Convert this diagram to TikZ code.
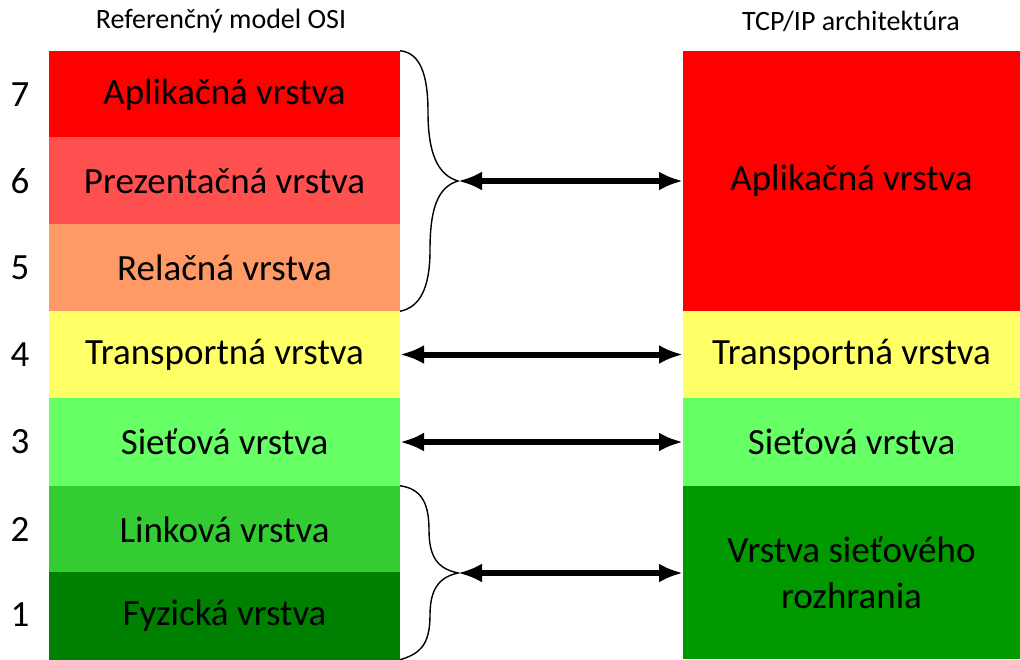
\documentclass[tikz,border=0pt]{standalone}
\usepackage{fontspec}
\setmainfont{Carlito}
\usetikzlibrary{arrows.meta}
\definecolor{cApp}{HTML}{FF0000}
\definecolor{cPres}{HTML}{FF5050}
\definecolor{cSes}{HTML}{FF9966}
\definecolor{cTra}{HTML}{FFFF66}
\definecolor{cNet}{HTML}{66FF66}
\definecolor{cLink}{HTML}{33CC33}
\definecolor{cPhy}{HTML}{008000}
\definecolor{cHost}{HTML}{009900}
\tikzset{
  layer/.style={draw=none, inner sep=0pt, outer sep=0pt, align=center,
    font=\fontsize{37}{46}\selectfont},
  osi/.style={layer, minimum width=351pt, minimum height=87.5pt},
  tcp/.style={layer, minimum width=337pt},
  num/.style={font=\fontsize{37}{40}\selectfont},
  title/.style={font=\fontsize{28}{32}\selectfont},
  brace/.style={draw=black, line width=1.4pt},
  dblarrow/.style={line width=6pt, {Latex[length=24pt,width=19pt]}-{Latex[length=24pt,width=19pt]}}
}
\begin{document}
\begin{tikzpicture}[x=1pt,y=-1pt]
\useasboundingbox (0,0) rectangle (1020,659);
% titles
\node[title] (t1) at (221,21) {Referenčný model OSI};
\node[title] (t2) at (851,21) {TCP/IP architektúra};
% OSI layers
\node[osi, fill=cApp]  (l7) at (224.5,94.5)  {Aplikačná vrstva};
\node[osi, fill=cPres] (l6) at (224.5,181)   {Prezentačná vrstva};
\node[osi, fill=cSes]  (l5) at (224.5,267.5) {Relačná vrstva};
\node[osi, fill=cTra]  (l4) at (224.5,354.5) {Transportná vrstva};
\node[osi, fill=cNet]  (l3) at (224.5,442)   {Sieťová vrstva};
\node[osi, fill=cLink] (l2) at (224.5,529.5) {Linková vrstva};
\node[osi, fill=cPhy]  (l1) at (224.5,616)   {Fyzická vrstva};
% numbers
\node[num] (n7) at (20,95)  {7};
\node[num] (n6) at (20,181) {6};
\node[num] (n5) at (20,268) {5};
\node[num] (n4) at (20,355) {4};
\node[num] (n3) at (20,442) {3};
\node[num] (n2) at (20,529) {2};
\node[num] (n1) at (20,615) {1};
% TCP/IP layers
\node[tcp, fill=cApp, minimum height=260pt] (r4) at (851.5,181) {Aplikačná vrstva};
\node[tcp, fill=cTra, minimum height=87.5pt] (r3) at (851.5,354.5) {Transportná vrstva};
\node[tcp, fill=cNet, minimum height=88pt] (r2) at (851.5,442) {Sieťová vrstva};
\node[tcp, fill=cHost, minimum height=173pt] (r1) at (851.5,572.5) {Vrstva sieťového\\rozhrania};
% brace tips
\coordinate (b1) at (458,181);
\coordinate (b2) at (458,573);
% upper brace
\draw[brace] (l7.north east) .. controls +(20,2) and +(0,-38) .. (428,112)
  .. controls +(0,42) and +(-20,-6) .. (b1)
  .. controls +(-20,6) and +(0,-42) .. (430,250)
  .. controls +(0,38) and +(20,-4) .. (l5.south east);
% lower brace
\draw[brace] (l2.north east) .. controls +(22,3) and +(0,-26) .. (429,530)
  .. controls +(0,30) and +(-18,-4) .. (b2)
  .. controls +(-18,4) and +(0,-27) .. (430,615)
  .. controls +(0,30) and +(20,-6) .. (l1.south east);
% arrows
\draw[dblarrow] (b1) -- (r4.west |- b1);
\draw[dblarrow] (l4.east) -- (r3.west);
\draw[dblarrow] (l3.east) -- (r2.west);
\draw[dblarrow] (b2) -- (r1.west |- b2);
\end{tikzpicture}
\end{document}
